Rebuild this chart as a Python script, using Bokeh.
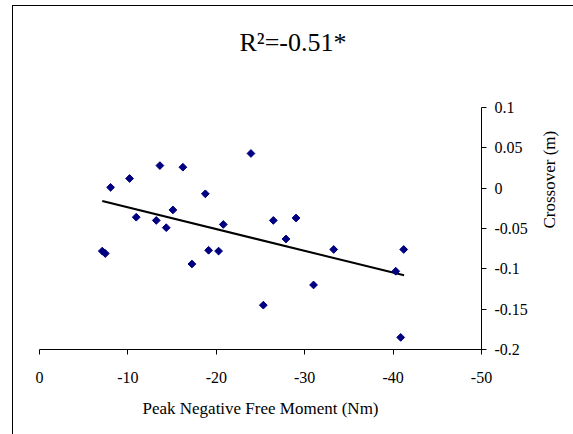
import numpy as np
from bokeh.plotting import figure
from bokeh.models import Range1d, LinearAxis, FixedTicker, CustomJSTickFormatter, ColumnDataSource, Title
from bokeh.embed import file_html
from bokeh.resources import INLINE

# Data
free_moment = [-8.04, -10.19, -13.62, -16.22, -23.92, -18.76, -10.94, -13.21, -15.09,
               -14.34, -20.79, -26.45, -7.10, -7.44, -19.13, -20.26, -17.24, -25.32,
               -29.02, -27.88, -33.28, -41.2, -40.3, -31.0, -40.86]
crossover = [0.001, 0.012, 0.028, 0.026, 0.043, -0.007, -0.036, -0.040, -0.027,
             -0.049, -0.045, -0.040, -0.078, -0.081, -0.077, -0.078, -0.094, -0.145,
             -0.037, -0.063, -0.076, -0.076, -0.103, -0.120, -0.185]
trend_x = [-7.1, -41.24]
trend_y = [-0.016, -0.108]
x_ticks = [0, -10, -20, -30, -40, -50]
y_ticks = [0.1, 0.05, 0, -0.05, -0.1, -0.15, -0.2]
title_text = "R²=-0.51*"

FONT = "Liberation Serif"

p = figure(width=573, height=434, output_backend="svg", toolbar_location=None, title=None,
           x_range=Range1d(0, -50), y_range=Range1d(-0.2, 0.1),
           x_axis_location=None, y_axis_location=None,
           min_border_left=39, min_border_top=106, min_border_right=92, min_border_bottom=85)
p.styles = {"box-shadow": "inset 12px 5px 0 0 #ffffff, inset 13px 6px 0 0 #000000"}
p.outline_line_color = None
p.xgrid.visible = False
p.ygrid.visible = False
p.background_fill_color = None
p.border_fill_color = None

# spacer between the frame and the title, then the title itself (further out)
spacer = Title(text=" ", text_font_size="1px", standoff=23)
p.add_layout(spacer, "above")
main_title = Title(text=title_text, text_font=FONT, text_font_size="26px",
                   text_font_style="normal", text_color="black",
                   align="left", offset=200, standoff=50)
p.add_layout(main_title, "above")

xa = LinearAxis(ticker=FixedTicker(ticks=x_ticks), axis_label="Peak Negative Free Moment (Nm)")
xa.formatter = CustomJSTickFormatter(code="return String(Math.round(tick));")
ya = LinearAxis(ticker=FixedTicker(ticks=y_ticks), axis_label="Crossover (m)")
ya.formatter = CustomJSTickFormatter(code="const v = Math.round(tick*100)/100; return String(v);")
for ax in (xa, ya):
    ax.axis_line_color = "black"
    ax.axis_line_width = 1
    ax.major_tick_line_color = "black"
    ax.major_tick_out = 5
    ax.major_tick_in = 0
    ax.minor_tick_line_color = None
    ax.major_label_text_font = FONT
    ax.major_label_text_font_size = "16px"
    ax.major_label_text_color = "black"
    ax.axis_label_text_font = FONT
    ax.axis_label_text_font_size = "17px"
    ax.axis_label_text_font_style = "normal"
    ax.axis_label_text_color = "black"
xa.major_label_standoff = 17
xa.axis_label_standoff = 13
ya.major_label_standoff = 8
ya.axis_label_standoff = 19
ya.axis_label_orientation = np.pi / 2
p.add_layout(xa, "below")
p.add_layout(ya, "right")

p.line(trend_x, trend_y, line_color="black", line_width=2)
src = ColumnDataSource(data=dict(x=free_moment, y=crossover))
p.scatter("x", "y", source=src, marker="square", angle=np.pi / 4, size=5.5,
          fill_color="#000080", line_color="#000080")

open("out.html", "w").write(file_html(p, INLINE))
